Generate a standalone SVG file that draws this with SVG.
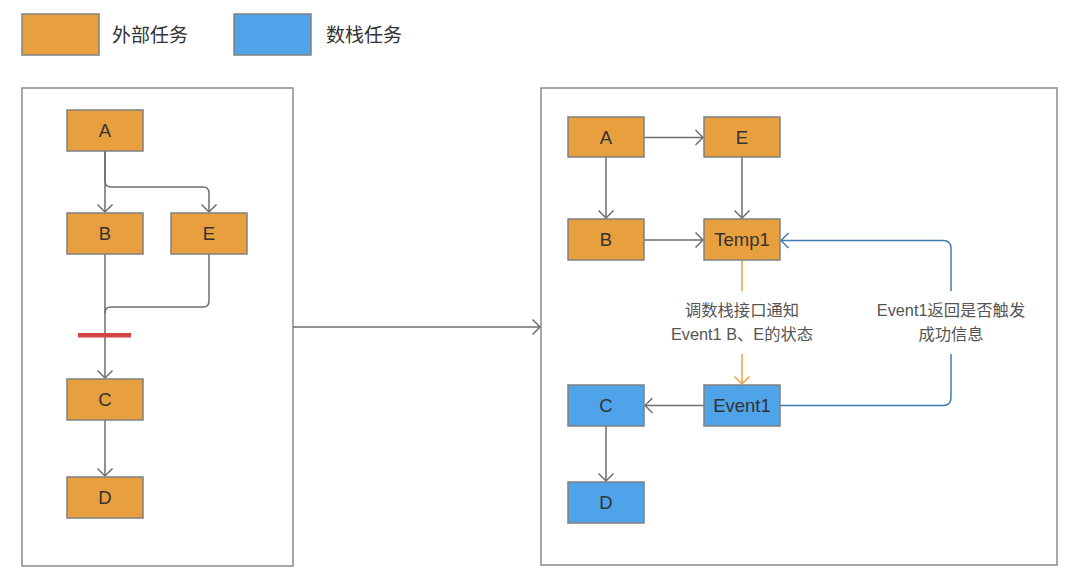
<svg xmlns="http://www.w3.org/2000/svg" width="1080" height="586" viewBox="0 0 1080 586">
<defs>
<style>
text{font-family:"Liberation Sans","Noto Sans CJK SC",sans-serif;fill:#333}
.panel{fill:#fff;stroke:#8a8a8a;stroke-width:1.5}
.or{fill:#e89f3e;stroke:#808080;stroke-width:1.5}
.bl{fill:#4fa3e8;stroke:#808080;stroke-width:1.5}
.nt{font-size:18.5px;text-anchor:middle;dominant-baseline:central}
.lg{font-size:19px;dominant-baseline:central}
.lb{font-size:16.3px;text-anchor:middle;fill:#555}
.cg{fill:none;stroke:#6e6e6e;stroke-width:1.5}
.co{fill:none;stroke:#eca243;stroke-width:1.5}
.cb{fill:none;stroke:#3d7cb9;stroke-width:1.5}
</style>
<marker id="ag" viewBox="-1 -9 10 18" markerWidth="10" markerHeight="18" refX="7.5" refY="0" orient="auto" markerUnits="userSpaceOnUse"><path d="M0,-7.5 L7.5,0 L0,7.5" fill="none" stroke="#6e6e6e" stroke-width="1.5"/></marker>
<marker id="ao" viewBox="-1 -9 10 18" markerWidth="10" markerHeight="18" refX="7.5" refY="0" orient="auto" markerUnits="userSpaceOnUse"><path d="M0,-7.5 L7.5,0 L0,7.5" fill="none" stroke="#eca243" stroke-width="1.5"/></marker>
<marker id="ab" viewBox="-1 -9 10 18" markerWidth="10" markerHeight="18" refX="7.5" refY="0" orient="auto" markerUnits="userSpaceOnUse"><path d="M0,-7.5 L7.5,0 L0,7.5" fill="none" stroke="#3d7cb9" stroke-width="1.5"/></marker>
</defs>
<rect width="1080" height="586" fill="#fff"/>
<g id="legend">
<rect class="or" x="22" y="14" width="77" height="41"/>
<text class="lg" x="112" y="35">外部任务</text>
<rect class="bl" x="234" y="14" width="77" height="41"/>
<text class="lg" x="326" y="35">数栈任务</text>
</g>
<g id="left-panel"><rect class="panel" x="22" y="88" width="271" height="478"/></g>
<g id="right-panel"><rect class="panel" x="541" y="88" width="516" height="477"/></g>
<g id="connectors">
<path class="cg" d="M105,151 V212" marker-end="url(#ag)"/>
<path class="cg" d="M105,151 V181 Q105,187 111,187 H203 Q209,187 209,193 V212" marker-end="url(#ag)"/>
<path class="cg" d="M105,254 V378" marker-end="url(#ag)"/>
<path class="cg" d="M209,254 V301 Q209,307 203,307 H111 Q105,307 105,313"/>
<path class="cg" d="M105,420 V476" marker-end="url(#ag)"/>
<rect x="78" y="333" width="53" height="4.5" fill="#d5453f"/>
<path class="cg" d="M293,327 H540" marker-end="url(#ag)"/>
<path class="cg" d="M644,137.5 H703" marker-end="url(#ag)"/>
<path class="cg" d="M606,157 V218" marker-end="url(#ag)"/>
<path class="cg" d="M742,157 V218" marker-end="url(#ag)"/>
<path class="cg" d="M644,240 H703" marker-end="url(#ag)"/>
<path class="co" d="M742,260 V291"/>
<path class="co" d="M742,354 V384" marker-end="url(#ao)"/>
<path class="cg" d="M704,405.5 H645" marker-end="url(#ag)"/>
<path class="cg" d="M606,426 V481" marker-end="url(#ag)"/>
<path class="cb" d="M780,405.5 H943 Q951,405.5 951,397.5 V354"/>
<path class="cb" d="M951,291 V248.5 Q951,240.5 943,240.5 H781" marker-end="url(#ab)"/>
<text class="lb" x="742" y="316">调数栈接口通知</text>
<text class="lb" x="742" y="340">Event1 B、E的状态</text>
<text class="lb" x="951" y="316">Event1返回是否触发</text>
<text class="lb" x="951" y="340">成功信息</text>
</g>
<g id="L-A"><rect class="or" x="67" y="110" width="76" height="41"/><text class="nt" x="105" y="130.5">A</text></g>
<g id="L-B"><rect class="or" x="67" y="213" width="76" height="41"/><text class="nt" x="105" y="233.5">B</text></g>
<g id="L-E"><rect class="or" x="171" y="213" width="76" height="41"/><text class="nt" x="209" y="233.5">E</text></g>
<g id="L-C"><rect class="or" x="67" y="379" width="76" height="41"/><text class="nt" x="105" y="399.5">C</text></g>
<g id="L-D"><rect class="or" x="67" y="477" width="76" height="41"/><text class="nt" x="105" y="497.5">D</text></g>
<g id="R-A"><rect class="or" x="568" y="117" width="76" height="40"/><text class="nt" x="606" y="137">A</text></g>
<g id="R-E"><rect class="or" x="704" y="117" width="76" height="40"/><text class="nt" x="742" y="137">E</text></g>
<g id="R-B"><rect class="or" x="568" y="219" width="76" height="41"/><text class="nt" x="606" y="239.5">B</text></g>
<g id="R-Temp1"><rect class="or" x="704" y="219" width="76" height="41"/><text class="nt" x="742" y="239.5">Temp1</text></g>
<g id="R-C"><rect class="bl" x="568" y="385" width="76" height="41"/><text class="nt" x="606" y="405.5">C</text></g>
<g id="R-Event1"><rect class="bl" x="704" y="385" width="76" height="41"/><text class="nt" x="742" y="405.5">Event1</text></g>
<g id="R-D"><rect class="bl" x="568" y="482" width="76" height="41"/><text class="nt" x="606" y="502.5">D</text></g>
</svg>
